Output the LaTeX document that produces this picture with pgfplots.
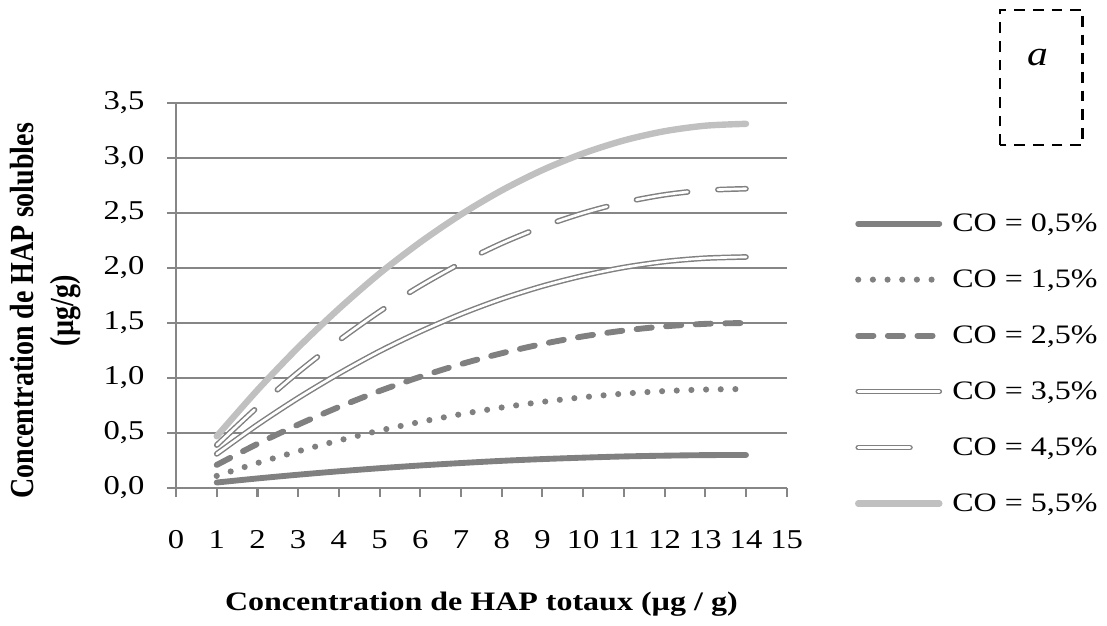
\documentclass[border=0pt]{standalone}
\usepackage{pgfplots}
\pgfplotsset{compat=1.18}
\usepackage{fontspec}
\setmainfont{Liberation Serif}[FakeStretch=1.2]
\newfontfamily\ylfont{Liberation Serif}
\definecolor{cgray}{HTML}{808080}
\definecolor{clight}{HTML}{C0C0C0}
\definecolor{axgray}{HTML}{868686}
\begin{document}
\begin{tikzpicture}
\begin{axis}[
  at={(66pt,51.7pt)}, anchor=south west,
  scale only axis, width=229pt, height=144.4pt,
  xmin=0, xmax=15, ymin=0, ymax=3.5,
  xtick={0,1,2,3,4,5,6,7,8,9,10,11,12,13,14,15},
  ytick={0,0.5,1,1.5,2,2.5,3,3.5},
  axis lines*=left,
  axis line style={axgray, line width=0.8pt, -},
  tick style={axgray, line width=0.8pt},
  tick align=outside, major tick length=3.4pt,
  ymajorgrids, grid style={axgray, line width=0.8pt},
  tick label style={font=\fontsize{10.2}{12}\selectfont},
  /pgf/number format/assume math mode=true,
  yticklabel style={xshift=-4.9pt, /pgf/number format/.cd, fixed, fixed zerofill, precision=1, use comma},
  xticklabel style={yshift=-9pt, /pgf/number format/.cd, fixed, precision=0},
  xlabel={Concentration de HAP totaux (µg / g)},
  xlabel style={font=\bfseries\fontsize{10}{12}\selectfont, at={(axis description cs:0.5,-0.317)}, anchor=base},
  ylabel={Concentration de HAP solubles\\(µg/g)},
  ylabel style={font=\ylfont\bfseries\fontsize{10.5}{12.5}\selectfont, align=center, yscale=1.2,
    at={(axis description cs:-0.214,0.46)}, anchor=center},
  legend style={at={(axis description cs:1.111,0.323)}, anchor=west, draw=none, fill=none, inner sep=0pt,
    font=\fontsize{10}{12}\selectfont, row sep=10pt,
    nodes={inner xsep=3.7pt, inner ysep=0pt, text height=8.5pt, text depth=2.5pt}},
  legend cell align=left,
  legend image code/.code={\draw[#1] (1.1pt,0pt) -- (31.5pt,0pt);},
]
\addplot[cgray, line width=2.2pt, line cap=round, smooth] coordinates {
(1,0.05) (2,0.087) (3,0.121) (4,0.152) (5,0.180) (6,0.205) (7,0.227) (8,0.247) (9,0.263) (10,0.276) (11,0.287) (12,0.294) (13,0.299) (14,0.300)};
\addlegendentry{CO = 0,5\%}
\addplot[cgray, line width=2.3pt, line cap=round, dash pattern=on 0pt off 5.5pt, smooth] coordinates {
(1,0.11) (2,0.227) (3,0.334) (4,0.432) (5,0.522) (6,0.601) (7,0.671) (8,0.732) (9,0.783) (10,0.825) (11,0.858) (12,0.881) (13,0.895) (14,0.900)};
\addlegendentry{CO = 1,5\%}
\addplot[cgray, line width=2.2pt, line cap=round, dash pattern=on 5.7pt off 5.4pt, smooth] coordinates {
(1,0.21) (2,0.401) (3,0.576) (4,0.736) (5,0.882) (6,1.011) (7,1.126) (8,1.225) (9,1.309) (10,1.378) (11,1.431) (12,1.469) (13,1.492) (14,1.500)};
\addlegendentry{CO = 2,5\%}
\addplot[cgray, line width=0.55pt, double=white, double distance=1pt, line cap=round, smooth] coordinates {
(1,0.31) (2,0.575) (3,0.818) (4,1.040) (5,1.243) (6,1.422) (7,1.581) (8,1.719) (9,1.835) (10,1.930) (11,2.005) (12,2.058) (13,2.089) (14,2.100)};
\addlegendentry{CO = 3,5\%}
\addplot[cgray, line width=0.55pt, double=white, double distance=1pt, line cap=round, dash pattern=on 19.4pt off 11.4pt, smooth] coordinates {
(1,0.39) (2,0.735) (3,1.052) (4,1.341) (5,1.604) (6,1.837) (7,2.044) (8,2.224) (9,2.375) (10,2.499) (11,2.596) (12,2.665) (13,2.706) (14,2.720)};
\addlegendentry{CO = 4,5\%}
\addplot[clight, line width=2.4pt, line cap=round, smooth] coordinates {
(1,0.47) (2,0.890) (3,1.277) (4,1.629) (5,1.950) (6,2.234) (7,2.486) (8,2.705) (9,2.890) (10,3.041) (11,3.159) (12,3.243) (13,3.293) (14,3.310)};
\addlegendentry{CO = 5,5\%}
\end{axis}
\draw[black, line width=1pt, dash pattern=on 4pt off 3pt] (375pt,180.3pt) rectangle (406pt,231pt);
\node[font=\itshape\fontsize{13}{16}\selectfont] at (389pt,213pt) {a};
\pgfresetboundingbox
\path[use as bounding box] (0,0) rectangle (415.1pt,234.7pt);
\end{tikzpicture}
\end{document}
